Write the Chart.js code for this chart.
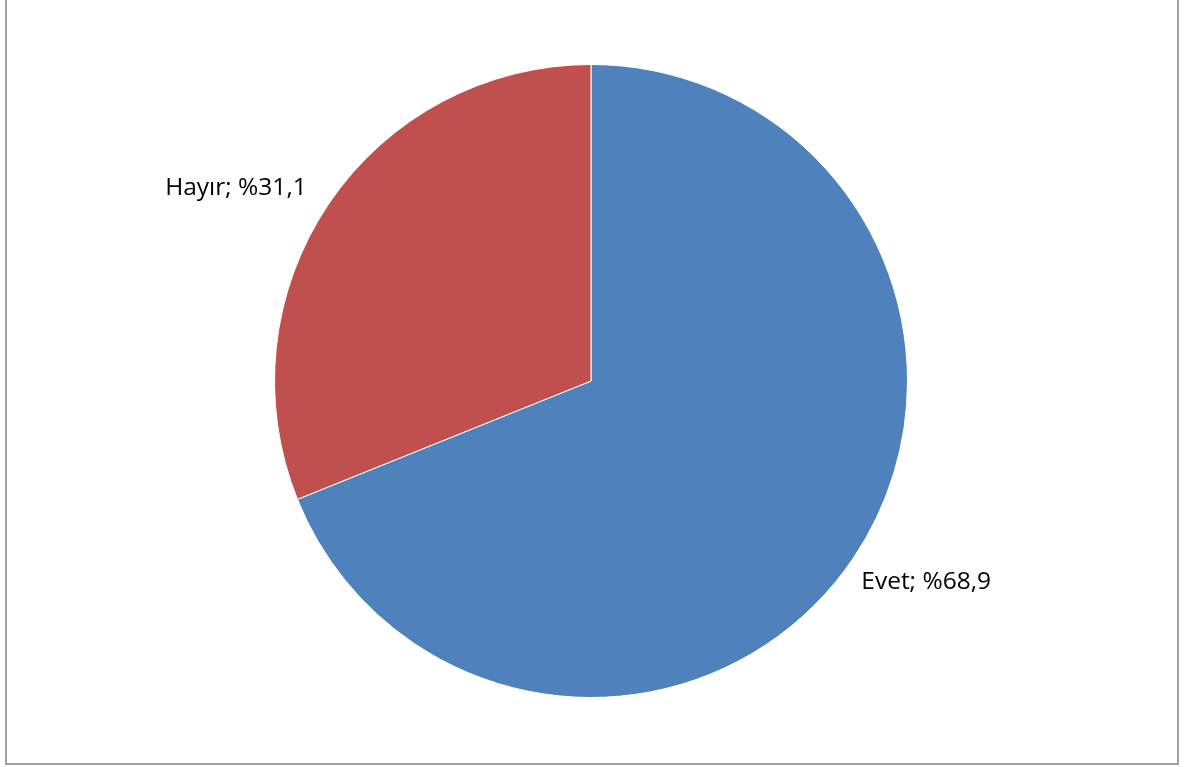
<!DOCTYPE html>
<html>
<head>
<meta charset="utf-8">
<script src="https://cdn.jsdelivr.net/npm/chart.js@4"></script>
<style>
  html, body { margin: 0; padding: 0; background: #fff; }
  #wrap { width: 1184px; height: 767px; position: relative; }
</style>
</head>
<body>
<div id="wrap"><canvas id="pieChart" width="1184" height="767"></canvas></div>
<script>
const categories = ["Evet", "Hayır"];
const percents = [68.9, 31.1];
const colors = ["#4F81BD", "#C0504D"];

/* frame: left, right and bottom lines only */
const framePlugin = {
    id: "frame",
    beforeDraw(chart) {
        const ctx = chart.ctx;
        ctx.save();
        ctx.strokeStyle = "#a0a0a0";
        ctx.lineWidth = 2;
        ctx.beginPath();
        ctx.moveTo(6, 0);
        ctx.lineTo(6, 764);
        ctx.lineTo(1178, 764);
        ctx.lineTo(1178, 0);
        ctx.stroke();
        ctx.restore();
    }
};

/* outside labels "Name; %value", nearest box corner sits just off the arc */
const labelPlugin = {
    id: "outLabels",
    afterDatasetsDraw(chart) {
        const ctx = chart.ctx;
        const meta = chart.getDatasetMeta(0);
        ctx.save();
        ctx.font = "24.5px 'Open Sans', sans-serif";
        ctx.fillStyle = "#000";
        meta.data.forEach((arc, i) => {
            const mid = (arc.startAngle + arc.endAngle) / 2;
            const r = arc.outerRadius + 12;
            const x = arc.x + Math.cos(mid) * r;
            const y = arc.y + Math.sin(mid) * r;
            const txt = categories[i] + "; %" + percents[i].toFixed(1).replace(".", ",");
            const left = Math.cos(mid) < 0;
            ctx.textAlign = left ? "right" : "left";
            ctx.textBaseline = "middle";
            if (left) {
                ctx.fillText(txt, x - 12, y - 9);
            } else {
                ctx.fillText(txt, x - 2, y + 17);
            }
        });
        ctx.restore();
    }
};

new Chart(document.getElementById("pieChart"), {
    type: "pie",
    data: {
        labels: categories,
        datasets: [{
            data: percents,
            backgroundColor: colors,
            borderColor: "#ffffff",
            borderWidth: 1
        }]
    },
    options: {
        responsive: false,
        animation: false,
        layout: { padding: { top: 64, bottom: 69, left: 0, right: 2 } },
        plugins: {
            legend: { display: false },
            tooltip: { enabled: false }
        }
    },
    plugins: [framePlugin, labelPlugin]
});
</script>
</body>
</html>
